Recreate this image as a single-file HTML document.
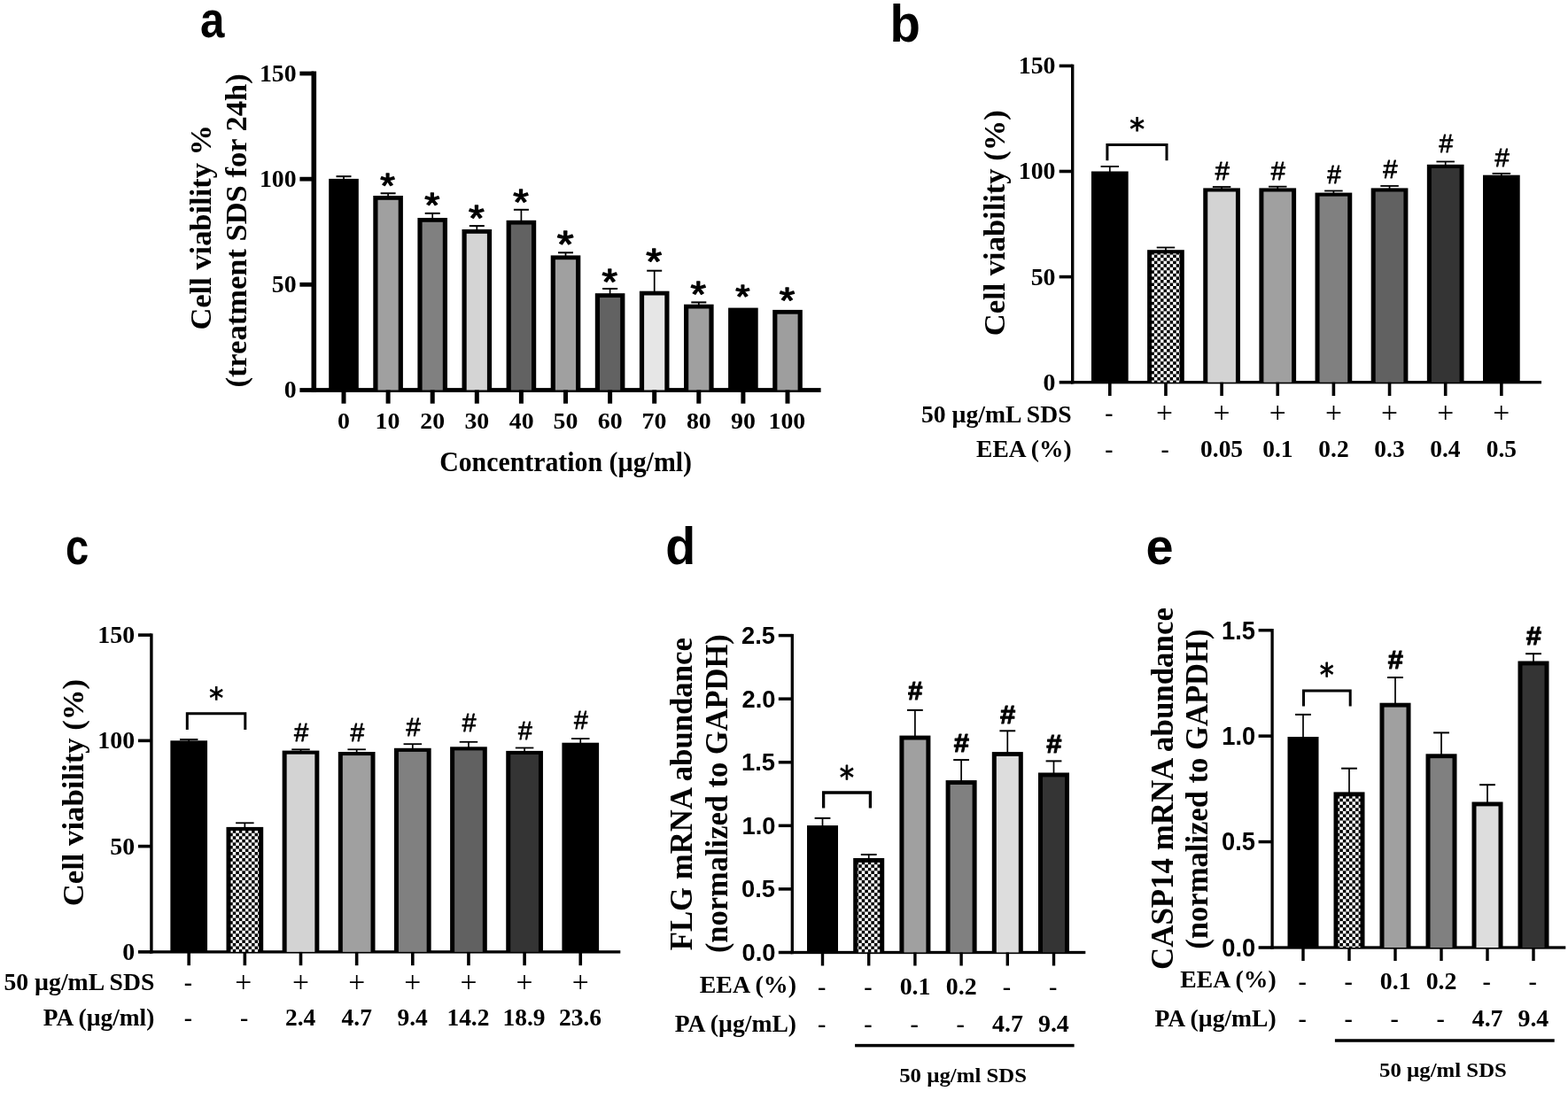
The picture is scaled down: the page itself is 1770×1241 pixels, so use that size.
<!DOCTYPE html>
<html><head><meta charset="utf-8"><title>Figure</title>
<style>html,body{margin:0;padding:0;background:#fff;}svg{display:block;}</style></head>
<body>
<svg width="1770" height="1241" viewBox="0 0 1770 1241">
<defs><pattern id="chk" patternUnits="userSpaceOnUse" x="0" y="0" width="7.1" height="7.1"><rect width="7.1" height="7.1" fill="#fff"/><rect width="3.55" height="3.55" fill="#000"/><rect x="3.55" y="3.55" width="3.55" height="3.55" fill="#000"/></pattern></defs>
<rect width="1770" height="1241" fill="#fff"/>
<text x="225.95" y="41.74" textLength="27.43" lengthAdjust="spacingAndGlyphs" style="font-family:'Liberation Sans', Arial, sans-serif;font-weight:bold;font-size:57.5px" fill="#000">a</text>
<rect x="351.5" y="80.5" width="5.6" height="362.5" fill="#000"/>
<rect x="351.5" y="438.1" width="575.1" height="4.8" fill="#000"/>
<rect x="338.4" y="438.1" width="15.9" height="4.8" fill="#000"/>
<text x="320.67" y="449.38" textLength="13.88" lengthAdjust="spacingAndGlyphs" style="font-family:'Liberation Serif', 'Times New Roman', serif;font-weight:bold;font-size:26.7px" fill="#000">0</text>
<rect x="338.4" y="318.93" width="15.9" height="4.8" fill="#000"/>
<text x="306.79" y="330.21" textLength="27.77" lengthAdjust="spacingAndGlyphs" style="font-family:'Liberation Serif', 'Times New Roman', serif;font-weight:bold;font-size:26.7px" fill="#000">50</text>
<rect x="338.4" y="199.77" width="15.9" height="4.8" fill="#000"/>
<text x="292.91" y="211.04" textLength="41.65" lengthAdjust="spacingAndGlyphs" style="font-family:'Liberation Serif', 'Times New Roman', serif;font-weight:bold;font-size:26.7px" fill="#000">100</text>
<rect x="338.4" y="80.6" width="15.9" height="4.8" fill="#000"/>
<text x="292.91" y="91.88" textLength="41.65" lengthAdjust="spacingAndGlyphs" style="font-family:'Liberation Serif', 'Times New Roman', serif;font-weight:bold;font-size:26.7px" fill="#000">150</text>
<rect x="387.15" y="199.2" width="1.7" height="3.7" fill="#000"/>
<rect x="379.5" y="198.2" width="17" height="2" fill="#000"/>
<rect x="371.2" y="201.9" width="33.6" height="238.6" fill="#000"/>
<rect x="385.5" y="440.5" width="5" height="15.2" fill="#000"/>
<text x="381.05" y="483.5" textLength="13.91" lengthAdjust="spacingAndGlyphs" style="font-family:'Liberation Serif', 'Times New Roman', serif;font-weight:bold;font-size:26px" fill="#000">0</text>
<rect x="437.25" y="218.3" width="1.7" height="3.7" fill="#000"/>
<rect x="429.6" y="217.3" width="17" height="2" fill="#000"/>
<rect x="421.3" y="221" width="33.6" height="219.5" fill="#000"/>
<rect x="426.5" y="225.8" width="23.2" height="214.7" fill="#a0a0a0"/>
<rect x="435.6" y="440.5" width="5" height="15.2" fill="#000"/>
<text x="423.61" y="483.5" textLength="27.82" lengthAdjust="spacingAndGlyphs" style="font-family:'Liberation Serif', 'Times New Roman', serif;font-weight:bold;font-size:26px" fill="#000">10</text>
<text x="429.37" y="222.71" textLength="16.64" lengthAdjust="spacingAndGlyphs" style="font-family:'Liberation Sans', Arial, sans-serif;font-weight:normal;font-size:38.17px" fill="#000" stroke="#000" stroke-width="1.3" stroke-linejoin="round">*</text>
<rect x="487.35" y="240.9" width="1.7" height="6.1" fill="#000"/>
<rect x="479.7" y="239.9" width="17" height="2" fill="#000"/>
<rect x="471.4" y="246" width="33.6" height="194.5" fill="#000"/>
<rect x="476.6" y="250.8" width="23.2" height="189.7" fill="#808080"/>
<rect x="485.7" y="440.5" width="5" height="15.2" fill="#000"/>
<text x="474.24" y="483.5" textLength="27.82" lengthAdjust="spacingAndGlyphs" style="font-family:'Liberation Serif', 'Times New Roman', serif;font-weight:bold;font-size:26px" fill="#000">20</text>
<text x="479.22" y="244.89" textLength="17.13" lengthAdjust="spacingAndGlyphs" style="font-family:'Liberation Sans', Arial, sans-serif;font-weight:normal;font-size:39.31px" fill="#000" stroke="#000" stroke-width="1.3" stroke-linejoin="round">*</text>
<rect x="537.45" y="255.1" width="1.7" height="4.9" fill="#000"/>
<rect x="529.8" y="254.1" width="17" height="2" fill="#000"/>
<rect x="521.5" y="259" width="33.6" height="181.5" fill="#000"/>
<rect x="526.7" y="263.8" width="23.2" height="176.7" fill="#d4d4d4"/>
<rect x="535.8" y="440.5" width="5" height="15.2" fill="#000"/>
<text x="524.4" y="483.5" textLength="27.82" lengthAdjust="spacingAndGlyphs" style="font-family:'Liberation Serif', 'Times New Roman', serif;font-weight:bold;font-size:26px" fill="#000">30</text>
<text x="529.01" y="260.07" textLength="17.75" lengthAdjust="spacingAndGlyphs" style="font-family:'Liberation Sans', Arial, sans-serif;font-weight:normal;font-size:40.73px" fill="#000" stroke="#000" stroke-width="1.3" stroke-linejoin="round">*</text>
<rect x="587.55" y="236.8" width="1.7" height="13" fill="#000"/>
<rect x="579.9" y="235.8" width="17" height="2" fill="#000"/>
<rect x="571.6" y="248.8" width="33.6" height="191.7" fill="#000"/>
<rect x="576.8" y="253.6" width="23.2" height="186.9" fill="#626262"/>
<rect x="585.9" y="440.5" width="5" height="15.2" fill="#000"/>
<text x="574.83" y="483.5" textLength="27.82" lengthAdjust="spacingAndGlyphs" style="font-family:'Liberation Serif', 'Times New Roman', serif;font-weight:bold;font-size:26px" fill="#000">40</text>
<text x="579.24" y="242.08" textLength="17.51" lengthAdjust="spacingAndGlyphs" style="font-family:'Liberation Sans', Arial, sans-serif;font-weight:normal;font-size:40.16px" fill="#000" stroke="#000" stroke-width="1.3" stroke-linejoin="round">*</text>
<rect x="637.65" y="285.3" width="1.7" height="4.1" fill="#000"/>
<rect x="630" y="284.3" width="17" height="2" fill="#000"/>
<rect x="621.7" y="288.4" width="33.6" height="152.1" fill="#000"/>
<rect x="626.9" y="293.2" width="23.2" height="147.3" fill="#a0a0a0"/>
<rect x="636" y="440.5" width="5" height="15.2" fill="#000"/>
<text x="624.56" y="483.5" textLength="27.82" lengthAdjust="spacingAndGlyphs" style="font-family:'Liberation Serif', 'Times New Roman', serif;font-weight:bold;font-size:26px" fill="#000">50</text>
<text x="628.65" y="290.44" textLength="18.87" lengthAdjust="spacingAndGlyphs" style="font-family:'Liberation Sans', Arial, sans-serif;font-weight:normal;font-size:43.3px" fill="#000" stroke="#000" stroke-width="1.3" stroke-linejoin="round">*</text>
<rect x="687.75" y="326" width="1.7" height="6.2" fill="#000"/>
<rect x="680.1" y="325" width="17" height="2" fill="#000"/>
<rect x="671.8" y="331.2" width="33.6" height="109.3" fill="#000"/>
<rect x="677" y="336" width="23.2" height="104.5" fill="#626262"/>
<rect x="686.1" y="440.5" width="5" height="15.2" fill="#000"/>
<text x="674.74" y="483.5" textLength="27.82" lengthAdjust="spacingAndGlyphs" style="font-family:'Liberation Serif', 'Times New Roman', serif;font-weight:bold;font-size:26px" fill="#000">60</text>
<text x="679.44" y="331.68" textLength="17.51" lengthAdjust="spacingAndGlyphs" style="font-family:'Liberation Sans', Arial, sans-serif;font-weight:normal;font-size:40.16px" fill="#000" stroke="#000" stroke-width="1.3" stroke-linejoin="round">*</text>
<rect x="737.85" y="305.7" width="1.7" height="24" fill="#000"/>
<rect x="730.2" y="304.7" width="17" height="2" fill="#000"/>
<rect x="721.9" y="328.7" width="33.6" height="111.8" fill="#000"/>
<rect x="727.1" y="333.5" width="23.2" height="107" fill="#e6e6e6"/>
<rect x="736.2" y="440.5" width="5" height="15.2" fill="#000"/>
<text x="724.53" y="483.5" textLength="27.82" lengthAdjust="spacingAndGlyphs" style="font-family:'Liberation Serif', 'Times New Roman', serif;font-weight:bold;font-size:26px" fill="#000">70</text>
<text x="729.35" y="308.87" textLength="17.88" lengthAdjust="spacingAndGlyphs" style="font-family:'Liberation Sans', Arial, sans-serif;font-weight:normal;font-size:41.02px" fill="#000" stroke="#000" stroke-width="1.3" stroke-linejoin="round">*</text>
<rect x="787.95" y="341.4" width="1.7" height="3.3" fill="#000"/>
<rect x="780.3" y="340.4" width="17" height="2" fill="#000"/>
<rect x="772" y="343.7" width="33.6" height="96.8" fill="#000"/>
<rect x="777.2" y="348.5" width="23.2" height="92" fill="#a0a0a0"/>
<rect x="786.3" y="440.5" width="5" height="15.2" fill="#000"/>
<text x="774.96" y="483.5" textLength="27.82" lengthAdjust="spacingAndGlyphs" style="font-family:'Liberation Serif', 'Times New Roman', serif;font-weight:bold;font-size:26px" fill="#000">80</text>
<text x="779.64" y="346.08" textLength="17.51" lengthAdjust="spacingAndGlyphs" style="font-family:'Liberation Sans', Arial, sans-serif;font-weight:normal;font-size:40.16px" fill="#000" stroke="#000" stroke-width="1.3" stroke-linejoin="round">*</text>
<rect x="822.1" y="347.6" width="33.6" height="92.9" fill="#000"/>
<rect x="836.4" y="440.5" width="5" height="15.2" fill="#000"/>
<text x="825.14" y="483.5" textLength="27.82" lengthAdjust="spacingAndGlyphs" style="font-family:'Liberation Serif', 'Times New Roman', serif;font-weight:bold;font-size:26px" fill="#000">90</text>
<text x="830.36" y="347.92" textLength="16.26" lengthAdjust="spacingAndGlyphs" style="font-family:'Liberation Sans', Arial, sans-serif;font-weight:normal;font-size:37.31px" fill="#000" stroke="#000" stroke-width="1.3" stroke-linejoin="round">*</text>
<rect x="872.2" y="349.9" width="33.6" height="90.6" fill="#000"/>
<rect x="877.4" y="354.7" width="23.2" height="85.8" fill="#9e9e9e"/>
<rect x="886.5" y="440.5" width="5" height="15.2" fill="#000"/>
<text x="867.55" y="483.5" textLength="41.73" lengthAdjust="spacingAndGlyphs" style="font-family:'Liberation Serif', 'Times New Roman', serif;font-weight:bold;font-size:26px" fill="#000">100</text>
<text x="879.84" y="352.78" textLength="17.51" lengthAdjust="spacingAndGlyphs" style="font-family:'Liberation Sans', Arial, sans-serif;font-weight:normal;font-size:40.16px" fill="#000" stroke="#000" stroke-width="1.3" stroke-linejoin="round">*</text>
<text x="496.14" y="531.6" textLength="284.87" lengthAdjust="spacingAndGlyphs" style="font-family:'Liberation Serif', 'Times New Roman', serif;font-weight:bold;font-size:30.5px" fill="#000">Concentration (µg/ml)</text>
<text transform="translate(237.6,372.58) rotate(-90)" x="0" y="0" textLength="231.61" lengthAdjust="spacingAndGlyphs" style="font-family:'Liberation Serif', 'Times New Roman', serif;font-weight:bold;font-size:34.3px" fill="#000">Cell viability %</text>
<text transform="translate(277.5,437.61) rotate(-90)" x="0" y="0" textLength="354.32" lengthAdjust="spacingAndGlyphs" style="font-family:'Liberation Serif', 'Times New Roman', serif;font-weight:bold;font-size:34.4px" fill="#000">(treatment SDS for 24h)</text>
<rect x="1209" y="72.7" width="3.4" height="360.7" fill="#000"/>
<rect x="1209" y="430.05" width="531" height="3.3" fill="#000"/>
<rect x="1195.7" y="429.9" width="15" height="3.6" fill="#000"/>
<text x="1177.63" y="440.61" textLength="13.94" lengthAdjust="spacingAndGlyphs" style="font-family:'Liberation Serif', 'Times New Roman', serif;font-weight:bold;font-size:26.8px" fill="#000">0</text>
<rect x="1195.7" y="310.8" width="15" height="3.6" fill="#000"/>
<text x="1163.69" y="321.51" textLength="27.87" lengthAdjust="spacingAndGlyphs" style="font-family:'Liberation Serif', 'Times New Roman', serif;font-weight:bold;font-size:26.8px" fill="#000">50</text>
<rect x="1195.7" y="191.7" width="15" height="3.6" fill="#000"/>
<text x="1149.75" y="202.41" textLength="41.81" lengthAdjust="spacingAndGlyphs" style="font-family:'Liberation Serif', 'Times New Roman', serif;font-weight:bold;font-size:26.8px" fill="#000">100</text>
<rect x="1195.7" y="72.6" width="15" height="3.6" fill="#000"/>
<text x="1149.75" y="83.31" textLength="41.81" lengthAdjust="spacingAndGlyphs" style="font-family:'Liberation Serif', 'Times New Roman', serif;font-weight:bold;font-size:26.8px" fill="#000">150</text>
<rect x="1251.95" y="188" width="1.7" height="6.5" fill="#000"/>
<rect x="1242.55" y="187.1" width="20.5" height="1.8" fill="#000"/>
<rect x="1231.95" y="193.5" width="41.7" height="238.2" fill="#000"/>
<rect x="1251" y="431.7" width="3.6" height="15.3" fill="#000"/>
<rect x="1315.1" y="279.5" width="1.7" height="3.7" fill="#000"/>
<rect x="1305.7" y="278.6" width="20.5" height="1.8" fill="#000"/>
<rect x="1295.1" y="282.2" width="41.7" height="149.5" fill="#000"/>
<rect x="1300.1" y="286.3" width="31.7" height="145.4" fill="url(#chk)"/>
<rect x="1314.15" y="431.7" width="3.6" height="15.3" fill="#000"/>
<rect x="1378.25" y="211" width="1.7" height="2.4" fill="#000"/>
<rect x="1368.85" y="210.1" width="20.5" height="1.8" fill="#000"/>
<rect x="1358.25" y="212.4" width="41.7" height="219.3" fill="#000"/>
<rect x="1363.25" y="216.5" width="31.7" height="215.2" fill="#d3d3d3"/>
<rect x="1377.3" y="431.7" width="3.6" height="15.3" fill="#000"/>
<text x="1371.72" y="203.4" textLength="16.17" lengthAdjust="spacingAndGlyphs" style="font-family:'Liberation Sans', Arial, sans-serif;font-weight:normal;font-size:29.97px" fill="#000" stroke="#000" stroke-width="0.8" stroke-linejoin="round">#</text>
<rect x="1441.4" y="210.7" width="1.7" height="2.7" fill="#000"/>
<rect x="1432" y="209.8" width="20.5" height="1.8" fill="#000"/>
<rect x="1421.4" y="212.4" width="41.7" height="219.3" fill="#000"/>
<rect x="1426.4" y="216.5" width="31.7" height="215.2" fill="#a0a0a0"/>
<rect x="1440.45" y="431.7" width="3.6" height="15.3" fill="#000"/>
<text x="1434.87" y="203.4" textLength="16.17" lengthAdjust="spacingAndGlyphs" style="font-family:'Liberation Sans', Arial, sans-serif;font-weight:normal;font-size:29.97px" fill="#000" stroke="#000" stroke-width="0.8" stroke-linejoin="round">#</text>
<rect x="1504.55" y="215.5" width="1.7" height="3.1" fill="#000"/>
<rect x="1495.15" y="214.6" width="20.5" height="1.8" fill="#000"/>
<rect x="1484.55" y="217.6" width="41.7" height="214.1" fill="#000"/>
<rect x="1489.55" y="221.7" width="31.7" height="210" fill="#808080"/>
<rect x="1503.6" y="431.7" width="3.6" height="15.3" fill="#000"/>
<text x="1498.34" y="206.5" textLength="15.54" lengthAdjust="spacingAndGlyphs" style="font-family:'Liberation Sans', Arial, sans-serif;font-weight:normal;font-size:28.8px" fill="#000" stroke="#000" stroke-width="0.8" stroke-linejoin="round">#</text>
<rect x="1567.7" y="210" width="1.7" height="3.4" fill="#000"/>
<rect x="1558.3" y="209.1" width="20.5" height="1.8" fill="#000"/>
<rect x="1547.7" y="212.4" width="41.7" height="219.3" fill="#000"/>
<rect x="1552.7" y="216.5" width="31.7" height="215.2" fill="#616161"/>
<rect x="1566.75" y="431.7" width="3.6" height="15.3" fill="#000"/>
<text x="1561.13" y="201.3" textLength="16.25" lengthAdjust="spacingAndGlyphs" style="font-family:'Liberation Sans', Arial, sans-serif;font-weight:normal;font-size:30.11px" fill="#000" stroke="#000" stroke-width="0.8" stroke-linejoin="round">#</text>
<rect x="1630.85" y="182.5" width="1.7" height="4.3" fill="#000"/>
<rect x="1621.45" y="181.6" width="20.5" height="1.8" fill="#000"/>
<rect x="1610.85" y="185.8" width="41.7" height="245.9" fill="#000"/>
<rect x="1615.85" y="189.9" width="31.7" height="241.8" fill="#343434"/>
<rect x="1629.9" y="431.7" width="3.6" height="15.3" fill="#000"/>
<text x="1624.56" y="171.7" textLength="15.69" lengthAdjust="spacingAndGlyphs" style="font-family:'Liberation Sans', Arial, sans-serif;font-weight:normal;font-size:29.09px" fill="#000" stroke="#000" stroke-width="0.8" stroke-linejoin="round">#</text>
<rect x="1694" y="195.9" width="1.7" height="2.8" fill="#000"/>
<rect x="1684.6" y="195" width="20.5" height="1.8" fill="#000"/>
<rect x="1674" y="197.7" width="41.7" height="234" fill="#000"/>
<rect x="1693.05" y="431.7" width="3.6" height="15.3" fill="#000"/>
<text x="1687.43" y="188.2" textLength="16.25" lengthAdjust="spacingAndGlyphs" style="font-family:'Liberation Sans', Arial, sans-serif;font-weight:normal;font-size:30.11px" fill="#000" stroke="#000" stroke-width="0.8" stroke-linejoin="round">#</text>
<path d="M1249.9 181.2 V163.6 H1317 V181.2" fill="none" stroke="#000" stroke-width="3" stroke-linejoin="miter"/>
<text x="1274.9" y="157.93" textLength="17.2" lengthAdjust="spacingAndGlyphs" style="font-family:'DejaVu Sans', sans-serif;font-weight:bold;font-size:35.75px" fill="#000">*</text>
<text transform="translate(1134,379.18) rotate(-90)" x="0" y="0" textLength="254.9" lengthAdjust="spacingAndGlyphs" style="font-family:'Liberation Serif', 'Times New Roman', serif;font-weight:bold;font-size:34.5px" fill="#000">Cell viability (%)</text>
<text x="1004.38" y="46.52" textLength="34.43" lengthAdjust="spacingAndGlyphs" style="font-family:'Liberation Sans', Arial, sans-serif;font-weight:bold;font-size:59.51px" fill="#000">b</text>
<text x="1040" y="476.8" textLength="169.56" lengthAdjust="spacingAndGlyphs" style="font-family:'Liberation Serif', 'Times New Roman', serif;font-weight:bold;font-size:26.4px" fill="#000">50 µg/mL SDS</text>
<text x="1247.38" y="475" textLength="9.23" lengthAdjust="spacingAndGlyphs" style="font-family:'Liberation Serif', 'Times New Roman', serif;font-weight:bold;font-size:26.4px" fill="#000">-</text>
<text x="1304.96" y="476.93" textLength="18.95" lengthAdjust="spacingAndGlyphs" style="font-family:'Liberation Serif', 'Times New Roman', serif;font-weight:normal;font-size:32.63px" fill="#000">+</text>
<text x="1369.61" y="476.93" textLength="18.95" lengthAdjust="spacingAndGlyphs" style="font-family:'Liberation Serif', 'Times New Roman', serif;font-weight:normal;font-size:32.63px" fill="#000">+</text>
<text x="1432.76" y="476.93" textLength="18.95" lengthAdjust="spacingAndGlyphs" style="font-family:'Liberation Serif', 'Times New Roman', serif;font-weight:normal;font-size:32.63px" fill="#000">+</text>
<text x="1495.91" y="476.93" textLength="18.95" lengthAdjust="spacingAndGlyphs" style="font-family:'Liberation Serif', 'Times New Roman', serif;font-weight:normal;font-size:32.63px" fill="#000">+</text>
<text x="1559.06" y="476.93" textLength="18.95" lengthAdjust="spacingAndGlyphs" style="font-family:'Liberation Serif', 'Times New Roman', serif;font-weight:normal;font-size:32.63px" fill="#000">+</text>
<text x="1622.21" y="476.93" textLength="18.95" lengthAdjust="spacingAndGlyphs" style="font-family:'Liberation Serif', 'Times New Roman', serif;font-weight:normal;font-size:32.63px" fill="#000">+</text>
<text x="1685.36" y="476.93" textLength="18.95" lengthAdjust="spacingAndGlyphs" style="font-family:'Liberation Serif', 'Times New Roman', serif;font-weight:normal;font-size:32.63px" fill="#000">+</text>
<text x="1102.14" y="515.6" textLength="107.45" lengthAdjust="spacingAndGlyphs" style="font-family:'Liberation Serif', 'Times New Roman', serif;font-weight:bold;font-size:26.4px" fill="#000">EEA (%)</text>
<text x="1247.38" y="515.6" textLength="9.23" lengthAdjust="spacingAndGlyphs" style="font-family:'Liberation Serif', 'Times New Roman', serif;font-weight:bold;font-size:26.4px" fill="#000">-</text>
<text x="1310.53" y="515.6" textLength="9.23" lengthAdjust="spacingAndGlyphs" style="font-family:'Liberation Serif', 'Times New Roman', serif;font-weight:bold;font-size:26.4px" fill="#000">-</text>
<text x="1355.06" y="515.6" textLength="48.05" lengthAdjust="spacingAndGlyphs" style="font-family:'Liberation Serif', 'Times New Roman', serif;font-weight:bold;font-size:26.4px" fill="#000">0.05</text>
<text x="1425.28" y="515.6" textLength="34.32" lengthAdjust="spacingAndGlyphs" style="font-family:'Liberation Serif', 'Times New Roman', serif;font-weight:bold;font-size:26.4px" fill="#000">0.1</text>
<text x="1488.31" y="515.6" textLength="34.32" lengthAdjust="spacingAndGlyphs" style="font-family:'Liberation Serif', 'Times New Roman', serif;font-weight:bold;font-size:26.4px" fill="#000">0.2</text>
<text x="1551.34" y="515.6" textLength="34.32" lengthAdjust="spacingAndGlyphs" style="font-family:'Liberation Serif', 'Times New Roman', serif;font-weight:bold;font-size:26.4px" fill="#000">0.3</text>
<text x="1614.27" y="515.6" textLength="34.32" lengthAdjust="spacingAndGlyphs" style="font-family:'Liberation Serif', 'Times New Roman', serif;font-weight:bold;font-size:26.4px" fill="#000">0.4</text>
<text x="1677.67" y="515.6" textLength="34.32" lengthAdjust="spacingAndGlyphs" style="font-family:'Liberation Serif', 'Times New Roman', serif;font-weight:bold;font-size:26.4px" fill="#000">0.5</text>
<rect x="169.2" y="715.4" width="3.4" height="361.2" fill="#000"/>
<rect x="169.2" y="1073.25" width="531.1" height="3.3" fill="#000"/>
<rect x="155.9" y="1073.1" width="15" height="3.6" fill="#000"/>
<text x="138.23" y="1083.81" textLength="13.94" lengthAdjust="spacingAndGlyphs" style="font-family:'Liberation Serif', 'Times New Roman', serif;font-weight:bold;font-size:26.8px" fill="#000">0</text>
<rect x="155.9" y="953.83" width="15" height="3.6" fill="#000"/>
<text x="124.29" y="964.54" textLength="27.87" lengthAdjust="spacingAndGlyphs" style="font-family:'Liberation Serif', 'Times New Roman', serif;font-weight:bold;font-size:26.8px" fill="#000">50</text>
<rect x="155.9" y="834.57" width="15" height="3.6" fill="#000"/>
<text x="110.35" y="845.28" textLength="41.81" lengthAdjust="spacingAndGlyphs" style="font-family:'Liberation Serif', 'Times New Roman', serif;font-weight:bold;font-size:26.8px" fill="#000">100</text>
<rect x="155.9" y="715.3" width="15" height="3.6" fill="#000"/>
<text x="110.35" y="726.01" textLength="41.81" lengthAdjust="spacingAndGlyphs" style="font-family:'Liberation Serif', 'Times New Roman', serif;font-weight:bold;font-size:26.8px" fill="#000">150</text>
<rect x="212.35" y="835" width="1.7" height="2.3" fill="#000"/>
<rect x="202.95" y="834.1" width="20.5" height="1.8" fill="#000"/>
<rect x="192.35" y="836.3" width="41.7" height="238.6" fill="#000"/>
<rect x="211.4" y="1074.9" width="3.6" height="15.3" fill="#000"/>
<rect x="275.5" y="929.3" width="1.7" height="5.6" fill="#000"/>
<rect x="266.1" y="928.4" width="20.5" height="1.8" fill="#000"/>
<rect x="255.5" y="933.9" width="41.7" height="141" fill="#000"/>
<rect x="260.5" y="938" width="31.7" height="136.9" fill="url(#chk)"/>
<rect x="274.55" y="1074.9" width="3.6" height="15.3" fill="#000"/>
<rect x="338.65" y="846.3" width="1.7" height="2.3" fill="#000"/>
<rect x="329.25" y="845.4" width="20.5" height="1.8" fill="#000"/>
<rect x="318.65" y="847.6" width="41.7" height="227.3" fill="#000"/>
<rect x="323.65" y="851.7" width="31.7" height="223.2" fill="#d3d3d3"/>
<rect x="337.7" y="1074.9" width="3.6" height="15.3" fill="#000"/>
<text x="332.08" y="837.4" textLength="16.25" lengthAdjust="spacingAndGlyphs" style="font-family:'Liberation Sans', Arial, sans-serif;font-weight:normal;font-size:30.11px" fill="#000" stroke="#000" stroke-width="0.8" stroke-linejoin="round">#</text>
<rect x="401.8" y="846.3" width="1.7" height="3.7" fill="#000"/>
<rect x="392.4" y="845.4" width="20.5" height="1.8" fill="#000"/>
<rect x="381.8" y="849" width="41.7" height="225.9" fill="#000"/>
<rect x="386.8" y="853.1" width="31.7" height="221.8" fill="#a0a0a0"/>
<rect x="400.85" y="1074.9" width="3.6" height="15.3" fill="#000"/>
<text x="395.47" y="836.8" textLength="15.77" lengthAdjust="spacingAndGlyphs" style="font-family:'Liberation Sans', Arial, sans-serif;font-weight:normal;font-size:29.24px" fill="#000" stroke="#000" stroke-width="0.8" stroke-linejoin="round">#</text>
<rect x="464.95" y="840.2" width="1.7" height="5.6" fill="#000"/>
<rect x="455.55" y="839.3" width="20.5" height="1.8" fill="#000"/>
<rect x="444.95" y="844.8" width="41.7" height="230.1" fill="#000"/>
<rect x="449.95" y="848.9" width="31.7" height="226" fill="#808080"/>
<rect x="464" y="1074.9" width="3.6" height="15.3" fill="#000"/>
<text x="458.38" y="831.3" textLength="16.25" lengthAdjust="spacingAndGlyphs" style="font-family:'Liberation Sans', Arial, sans-serif;font-weight:normal;font-size:30.11px" fill="#000" stroke="#000" stroke-width="0.8" stroke-linejoin="round">#</text>
<rect x="528.1" y="837.8" width="1.7" height="6.5" fill="#000"/>
<rect x="518.7" y="836.9" width="20.5" height="1.8" fill="#000"/>
<rect x="508.1" y="843.3" width="41.7" height="231.6" fill="#000"/>
<rect x="513.1" y="847.4" width="31.7" height="227.5" fill="#616161"/>
<rect x="527.15" y="1074.9" width="3.6" height="15.3" fill="#000"/>
<text x="521.81" y="826.1" textLength="15.69" lengthAdjust="spacingAndGlyphs" style="font-family:'Liberation Sans', Arial, sans-serif;font-weight:normal;font-size:29.09px" fill="#000" stroke="#000" stroke-width="0.8" stroke-linejoin="round">#</text>
<rect x="591.25" y="844.5" width="1.7" height="4.4" fill="#000"/>
<rect x="581.85" y="843.6" width="20.5" height="1.8" fill="#000"/>
<rect x="571.25" y="847.9" width="41.7" height="227" fill="#000"/>
<rect x="576.25" y="852" width="31.7" height="222.9" fill="#343434"/>
<rect x="590.3" y="1074.9" width="3.6" height="15.3" fill="#000"/>
<text x="584.92" y="835.3" textLength="15.77" lengthAdjust="spacingAndGlyphs" style="font-family:'Liberation Sans', Arial, sans-serif;font-weight:normal;font-size:29.24px" fill="#000" stroke="#000" stroke-width="0.8" stroke-linejoin="round">#</text>
<rect x="654.4" y="834.1" width="1.7" height="5.6" fill="#000"/>
<rect x="645" y="833.2" width="20.5" height="1.8" fill="#000"/>
<rect x="634.4" y="838.7" width="41.7" height="236.2" fill="#000"/>
<rect x="653.45" y="1074.9" width="3.6" height="15.3" fill="#000"/>
<text x="648.07" y="823.1" textLength="15.77" lengthAdjust="spacingAndGlyphs" style="font-family:'Liberation Sans', Arial, sans-serif;font-weight:normal;font-size:29.24px" fill="#000" stroke="#000" stroke-width="0.8" stroke-linejoin="round">#</text>
<path d="M211.3 824 V805.8 H276.8 V824" fill="none" stroke="#000" stroke-width="3" stroke-linejoin="miter"/>
<text x="236.01" y="800.25" textLength="16.37" lengthAdjust="spacingAndGlyphs" style="font-family:'DejaVu Sans', sans-serif;font-weight:bold;font-size:34.03px" fill="#000">*</text>
<text transform="translate(93.7,1023.29) rotate(-90)" x="0" y="0" textLength="256.32" lengthAdjust="spacingAndGlyphs" style="font-family:'Liberation Serif', 'Times New Roman', serif;font-weight:bold;font-size:34.7px" fill="#000">Cell viability (%)</text>
<text x="73.96" y="636.93" textLength="26.22" lengthAdjust="spacingAndGlyphs" style="font-family:'Liberation Sans', Arial, sans-serif;font-weight:bold;font-size:57.86px" fill="#000">c</text>
<text x="4.5" y="1118" textLength="169.87" lengthAdjust="spacingAndGlyphs" style="font-family:'Liberation Serif', 'Times New Roman', serif;font-weight:bold;font-size:26.4px" fill="#000">50 µg/mL SDS</text>
<text x="207.78" y="1118" textLength="9.23" lengthAdjust="spacingAndGlyphs" style="font-family:'Liberation Serif', 'Times New Roman', serif;font-weight:bold;font-size:26.4px" fill="#000">-</text>
<text x="265.36" y="1119.93" textLength="18.95" lengthAdjust="spacingAndGlyphs" style="font-family:'Liberation Serif', 'Times New Roman', serif;font-weight:normal;font-size:32.63px" fill="#000">+</text>
<text x="330.01" y="1119.93" textLength="18.95" lengthAdjust="spacingAndGlyphs" style="font-family:'Liberation Serif', 'Times New Roman', serif;font-weight:normal;font-size:32.63px" fill="#000">+</text>
<text x="393.16" y="1119.93" textLength="18.95" lengthAdjust="spacingAndGlyphs" style="font-family:'Liberation Serif', 'Times New Roman', serif;font-weight:normal;font-size:32.63px" fill="#000">+</text>
<text x="456.31" y="1119.93" textLength="18.95" lengthAdjust="spacingAndGlyphs" style="font-family:'Liberation Serif', 'Times New Roman', serif;font-weight:normal;font-size:32.63px" fill="#000">+</text>
<text x="519.46" y="1119.93" textLength="18.95" lengthAdjust="spacingAndGlyphs" style="font-family:'Liberation Serif', 'Times New Roman', serif;font-weight:normal;font-size:32.63px" fill="#000">+</text>
<text x="582.61" y="1119.93" textLength="18.95" lengthAdjust="spacingAndGlyphs" style="font-family:'Liberation Serif', 'Times New Roman', serif;font-weight:normal;font-size:32.63px" fill="#000">+</text>
<text x="645.76" y="1119.93" textLength="18.95" lengthAdjust="spacingAndGlyphs" style="font-family:'Liberation Serif', 'Times New Roman', serif;font-weight:normal;font-size:32.63px" fill="#000">+</text>
<text x="48.84" y="1158.3" textLength="125.53" lengthAdjust="spacingAndGlyphs" style="font-family:'Liberation Serif', 'Times New Roman', serif;font-weight:bold;font-size:26.4px" fill="#000">PA (µg/ml)</text>
<text x="207.78" y="1158.3" textLength="9.23" lengthAdjust="spacingAndGlyphs" style="font-family:'Liberation Serif', 'Times New Roman', serif;font-weight:bold;font-size:26.4px" fill="#000">-</text>
<text x="270.93" y="1158.3" textLength="9.23" lengthAdjust="spacingAndGlyphs" style="font-family:'Liberation Serif', 'Times New Roman', serif;font-weight:bold;font-size:26.4px" fill="#000">-</text>
<text x="322.02" y="1158.3" textLength="34.32" lengthAdjust="spacingAndGlyphs" style="font-family:'Liberation Serif', 'Times New Roman', serif;font-weight:bold;font-size:26.4px" fill="#000">2.4</text>
<text x="385.64" y="1158.3" textLength="34.32" lengthAdjust="spacingAndGlyphs" style="font-family:'Liberation Serif', 'Times New Roman', serif;font-weight:bold;font-size:26.4px" fill="#000">4.7</text>
<text x="448.52" y="1158.3" textLength="34.32" lengthAdjust="spacingAndGlyphs" style="font-family:'Liberation Serif', 'Times New Roman', serif;font-weight:bold;font-size:26.4px" fill="#000">9.4</text>
<text x="504.42" y="1158.3" textLength="48.05" lengthAdjust="spacingAndGlyphs" style="font-family:'Liberation Serif', 'Times New Roman', serif;font-weight:bold;font-size:26.4px" fill="#000">14.2</text>
<text x="567.47" y="1158.3" textLength="48.05" lengthAdjust="spacingAndGlyphs" style="font-family:'Liberation Serif', 'Times New Roman', serif;font-weight:bold;font-size:26.4px" fill="#000">18.9</text>
<text x="631.05" y="1158.3" textLength="48.05" lengthAdjust="spacingAndGlyphs" style="font-family:'Liberation Serif', 'Times New Roman', serif;font-weight:bold;font-size:26.4px" fill="#000">23.6</text>
<rect x="892.65" y="715.9" width="3.3" height="361.3" fill="#000"/>
<rect x="892.6" y="1073.85" width="332.7" height="3.3" fill="#000"/>
<rect x="878.8" y="1073.75" width="15.5" height="3.5" fill="#000"/>
<text x="837.44" y="1084.99" textLength="37.98" lengthAdjust="spacingAndGlyphs" style="font-family:'Liberation Sans', Arial, sans-serif;font-weight:bold;font-size:27.6px" fill="#000">0.0</text>
<rect x="878.8" y="1002.17" width="15.5" height="3.5" fill="#000"/>
<text x="837.08" y="1013.41" textLength="37.98" lengthAdjust="spacingAndGlyphs" style="font-family:'Liberation Sans', Arial, sans-serif;font-weight:bold;font-size:27.6px" fill="#000">0.5</text>
<rect x="878.8" y="930.59" width="15.5" height="3.5" fill="#000"/>
<text x="837.44" y="941.83" textLength="37.98" lengthAdjust="spacingAndGlyphs" style="font-family:'Liberation Sans', Arial, sans-serif;font-weight:bold;font-size:27.6px" fill="#000">1.0</text>
<rect x="878.8" y="859.01" width="15.5" height="3.5" fill="#000"/>
<text x="837.08" y="870.25" textLength="37.98" lengthAdjust="spacingAndGlyphs" style="font-family:'Liberation Sans', Arial, sans-serif;font-weight:bold;font-size:27.6px" fill="#000">1.5</text>
<rect x="878.8" y="787.43" width="15.5" height="3.5" fill="#000"/>
<text x="837.44" y="798.67" textLength="37.98" lengthAdjust="spacingAndGlyphs" style="font-family:'Liberation Sans', Arial, sans-serif;font-weight:bold;font-size:27.6px" fill="#000">2.0</text>
<rect x="878.8" y="715.85" width="15.5" height="3.5" fill="#000"/>
<text x="837.08" y="727.09" textLength="37.98" lengthAdjust="spacingAndGlyphs" style="font-family:'Liberation Sans', Arial, sans-serif;font-weight:bold;font-size:27.6px" fill="#000">2.5</text>
<rect x="927.65" y="923.9" width="1.7" height="9.2" fill="#000"/>
<rect x="919.6" y="922.9" width="17.8" height="2" fill="#000"/>
<rect x="911" y="932.1" width="35" height="143.4" fill="#000"/>
<rect x="926.8" y="1075.5" width="3.4" height="15" fill="#000"/>
<rect x="979.85" y="965" width="1.7" height="5" fill="#000"/>
<rect x="971.8" y="964" width="17.8" height="2" fill="#000"/>
<rect x="963.2" y="969" width="35" height="106.5" fill="#000"/>
<rect x="968.2" y="973.9" width="25" height="101.6" fill="url(#chk)"/>
<rect x="979" y="1075.5" width="3.4" height="15" fill="#000"/>
<rect x="1032.05" y="801.9" width="1.7" height="29.7" fill="#000"/>
<rect x="1024" y="800.9" width="17.8" height="2" fill="#000"/>
<rect x="1015.4" y="830.6" width="35" height="244.9" fill="#000"/>
<rect x="1020.4" y="835.5" width="25" height="240" fill="#a0a0a0"/>
<rect x="1031.2" y="1075.5" width="3.4" height="15" fill="#000"/>
<text x="1025.08" y="790.2" textLength="16.41" lengthAdjust="spacingAndGlyphs" style="font-family:'Liberation Sans', Arial, sans-serif;font-weight:bold;font-size:28.92px" fill="#000" stroke="#000" stroke-width="1.0" stroke-linejoin="round">#</text>
<rect x="1084.25" y="858.1" width="1.7" height="24" fill="#000"/>
<rect x="1076.2" y="857.1" width="17.8" height="2" fill="#000"/>
<rect x="1067.6" y="881.1" width="35" height="194.4" fill="#000"/>
<rect x="1072.6" y="886" width="25" height="189.5" fill="#808080"/>
<rect x="1083.4" y="1075.5" width="3.4" height="15" fill="#000"/>
<text x="1076.87" y="849" textLength="17.24" lengthAdjust="spacingAndGlyphs" style="font-family:'Liberation Sans', Arial, sans-serif;font-weight:bold;font-size:30.39px" fill="#000" stroke="#000" stroke-width="1.0" stroke-linejoin="round">#</text>
<rect x="1136.45" y="825.3" width="1.7" height="24.8" fill="#000"/>
<rect x="1128.4" y="824.3" width="17.8" height="2" fill="#000"/>
<rect x="1119.8" y="849.1" width="35" height="226.4" fill="#000"/>
<rect x="1124.8" y="854" width="25" height="221.5" fill="#dddddd"/>
<rect x="1135.6" y="1075.5" width="3.4" height="15" fill="#000"/>
<text x="1129.07" y="816.5" textLength="17.24" lengthAdjust="spacingAndGlyphs" style="font-family:'Liberation Sans', Arial, sans-serif;font-weight:bold;font-size:30.39px" fill="#000" stroke="#000" stroke-width="1.0" stroke-linejoin="round">#</text>
<rect x="1188.65" y="859.4" width="1.7" height="14.1" fill="#000"/>
<rect x="1180.6" y="858.4" width="17.8" height="2" fill="#000"/>
<rect x="1172" y="872.5" width="35" height="203" fill="#000"/>
<rect x="1177" y="877.4" width="25" height="198.1" fill="#343434"/>
<rect x="1187.8" y="1075.5" width="3.4" height="15" fill="#000"/>
<text x="1181.27" y="849.9" textLength="17.24" lengthAdjust="spacingAndGlyphs" style="font-family:'Liberation Sans', Arial, sans-serif;font-weight:bold;font-size:30.39px" fill="#000" stroke="#000" stroke-width="1.0" stroke-linejoin="round">#</text>
<path d="M929.6 912.5 V895 H982.4 V912.5" fill="none" stroke="#000" stroke-width="3.3" stroke-linejoin="miter"/>
<text x="947.73" y="890.41" textLength="16.34" lengthAdjust="spacingAndGlyphs" style="font-family:'DejaVu Sans', sans-serif;font-weight:normal;font-size:35.52px" fill="#000" stroke="#000" stroke-width="0.9" stroke-linejoin="round">*</text>
<text transform="translate(781,1073.29) rotate(-90)" x="0" y="0" textLength="353.18" lengthAdjust="spacingAndGlyphs" style="font-family:'Liberation Serif', 'Times New Roman', serif;font-weight:bold;font-size:35px" fill="#000">FLG mRNA abundance</text>
<text transform="translate(821.3,1076.11) rotate(-90)" x="0" y="0" textLength="359.83" lengthAdjust="spacingAndGlyphs" style="font-family:'Liberation Serif', 'Times New Roman', serif;font-weight:bold;font-size:35.5px" fill="#000">(normalized to GAPDH)</text>
<text x="751.22" y="636.91" textLength="33.94" lengthAdjust="spacingAndGlyphs" style="font-family:'Liberation Sans', Arial, sans-serif;font-weight:bold;font-size:59.91px" fill="#000">d</text>
<text x="789.73" y="1120.8" textLength="109.28" lengthAdjust="spacingAndGlyphs" style="font-family:'Liberation Serif', 'Times New Roman', serif;font-weight:bold;font-size:26.8px" fill="#000">EEA (%)</text>
<text x="923.01" y="1123.4" textLength="9.37" lengthAdjust="spacingAndGlyphs" style="font-family:'Liberation Serif', 'Times New Roman', serif;font-weight:bold;font-size:26.8px" fill="#000">-</text>
<text x="975.21" y="1123.4" textLength="9.37" lengthAdjust="spacingAndGlyphs" style="font-family:'Liberation Serif', 'Times New Roman', serif;font-weight:bold;font-size:26.8px" fill="#000">-</text>
<text x="1015.67" y="1123.4" textLength="34.84" lengthAdjust="spacingAndGlyphs" style="font-family:'Liberation Serif', 'Times New Roman', serif;font-weight:bold;font-size:26.8px" fill="#000">0.1</text>
<text x="1067.75" y="1123.4" textLength="34.84" lengthAdjust="spacingAndGlyphs" style="font-family:'Liberation Serif', 'Times New Roman', serif;font-weight:bold;font-size:26.8px" fill="#000">0.2</text>
<text x="1131.81" y="1123.4" textLength="9.37" lengthAdjust="spacingAndGlyphs" style="font-family:'Liberation Serif', 'Times New Roman', serif;font-weight:bold;font-size:26.8px" fill="#000">-</text>
<text x="1184.01" y="1123.4" textLength="9.37" lengthAdjust="spacingAndGlyphs" style="font-family:'Liberation Serif', 'Times New Roman', serif;font-weight:bold;font-size:26.8px" fill="#000">-</text>
<text x="761.74" y="1164.9" textLength="137.24" lengthAdjust="spacingAndGlyphs" style="font-family:'Liberation Serif', 'Times New Roman', serif;font-weight:bold;font-size:26.8px" fill="#000">PA (µg/mL)</text>
<text x="923.01" y="1164.9" textLength="9.37" lengthAdjust="spacingAndGlyphs" style="font-family:'Liberation Serif', 'Times New Roman', serif;font-weight:bold;font-size:26.8px" fill="#000">-</text>
<text x="975.21" y="1164.9" textLength="9.37" lengthAdjust="spacingAndGlyphs" style="font-family:'Liberation Serif', 'Times New Roman', serif;font-weight:bold;font-size:26.8px" fill="#000">-</text>
<text x="1027.41" y="1164.9" textLength="9.37" lengthAdjust="spacingAndGlyphs" style="font-family:'Liberation Serif', 'Times New Roman', serif;font-weight:bold;font-size:26.8px" fill="#000">-</text>
<text x="1079.61" y="1164.9" textLength="9.37" lengthAdjust="spacingAndGlyphs" style="font-family:'Liberation Serif', 'Times New Roman', serif;font-weight:bold;font-size:26.8px" fill="#000">-</text>
<text x="1120.03" y="1164.9" textLength="34.84" lengthAdjust="spacingAndGlyphs" style="font-family:'Liberation Serif', 'Times New Roman', serif;font-weight:bold;font-size:26.8px" fill="#000">4.7</text>
<text x="1171.96" y="1164.9" textLength="34.84" lengthAdjust="spacingAndGlyphs" style="font-family:'Liberation Serif', 'Times New Roman', serif;font-weight:bold;font-size:26.8px" fill="#000">9.4</text>
<rect x="965.1" y="1178.85" width="247.5" height="3.5" fill="#000"/>
<text x="1015.21" y="1221.6" textLength="143.75" lengthAdjust="spacingAndGlyphs" style="font-family:'Liberation Serif', 'Times New Roman', serif;font-weight:bold;font-size:23.3px" fill="#000">50 µg/ml SDS</text>
<rect x="1434.45" y="710" width="3.3" height="361.7" fill="#000"/>
<rect x="1434.4" y="1068.35" width="332.9" height="3.3" fill="#000"/>
<rect x="1420.6" y="1068.25" width="15.5" height="3.5" fill="#000"/>
<text x="1379.35" y="1079.84" textLength="37.97" lengthAdjust="spacingAndGlyphs" style="font-family:'Liberation Sans', Arial, sans-serif;font-weight:bold;font-size:28.6px" fill="#000">0.0</text>
<rect x="1420.6" y="948.82" width="15.5" height="3.5" fill="#000"/>
<text x="1378.99" y="960.41" textLength="37.97" lengthAdjust="spacingAndGlyphs" style="font-family:'Liberation Sans', Arial, sans-serif;font-weight:bold;font-size:28.6px" fill="#000">0.5</text>
<rect x="1420.6" y="829.38" width="15.5" height="3.5" fill="#000"/>
<text x="1379.35" y="840.97" textLength="37.97" lengthAdjust="spacingAndGlyphs" style="font-family:'Liberation Sans', Arial, sans-serif;font-weight:bold;font-size:28.6px" fill="#000">1.0</text>
<rect x="1420.6" y="709.95" width="15.5" height="3.5" fill="#000"/>
<text x="1378.99" y="721.54" textLength="37.97" lengthAdjust="spacingAndGlyphs" style="font-family:'Liberation Sans', Arial, sans-serif;font-weight:bold;font-size:28.6px" fill="#000">1.5</text>
<rect x="1470.15" y="806.9" width="1.7" height="26.1" fill="#000"/>
<rect x="1462.1" y="805.9" width="17.8" height="2" fill="#000"/>
<rect x="1453.5" y="832" width="35" height="238" fill="#000"/>
<rect x="1469.3" y="1070" width="3.4" height="15" fill="#000"/>
<rect x="1522.15" y="867.7" width="1.7" height="27.7" fill="#000"/>
<rect x="1514.1" y="866.7" width="17.8" height="2" fill="#000"/>
<rect x="1505.5" y="894.4" width="35" height="175.6" fill="#000"/>
<rect x="1510.5" y="899.3" width="25" height="170.7" fill="url(#chk)"/>
<rect x="1521.3" y="1070" width="3.4" height="15" fill="#000"/>
<rect x="1574.15" y="765" width="1.7" height="29.7" fill="#000"/>
<rect x="1566.1" y="764" width="17.8" height="2" fill="#000"/>
<rect x="1557.5" y="793.7" width="35" height="276.3" fill="#000"/>
<rect x="1562.5" y="798.6" width="25" height="271.4" fill="#a0a0a0"/>
<rect x="1573.3" y="1070" width="3.4" height="15" fill="#000"/>
<text x="1566.81" y="754.5" textLength="17.16" lengthAdjust="spacingAndGlyphs" style="font-family:'Liberation Sans', Arial, sans-serif;font-weight:bold;font-size:30.24px" fill="#000" stroke="#000" stroke-width="1.0" stroke-linejoin="round">#</text>
<rect x="1626.15" y="827.4" width="1.7" height="24.9" fill="#000"/>
<rect x="1618.1" y="826.4" width="17.8" height="2" fill="#000"/>
<rect x="1609.5" y="851.3" width="35" height="218.7" fill="#000"/>
<rect x="1614.5" y="856.2" width="25" height="213.8" fill="#808080"/>
<rect x="1625.3" y="1070" width="3.4" height="15" fill="#000"/>
<rect x="1678.15" y="886.2" width="1.7" height="20.3" fill="#000"/>
<rect x="1670.1" y="885.2" width="17.8" height="2" fill="#000"/>
<rect x="1661.5" y="905.5" width="35" height="164.5" fill="#000"/>
<rect x="1666.5" y="910.4" width="25" height="159.6" fill="#dddddd"/>
<rect x="1677.3" y="1070" width="3.4" height="15" fill="#000"/>
<rect x="1730.15" y="738.2" width="1.7" height="9.3" fill="#000"/>
<rect x="1722.1" y="737.2" width="17.8" height="2" fill="#000"/>
<rect x="1713.5" y="746.5" width="35" height="323.5" fill="#000"/>
<rect x="1718.5" y="751.4" width="25" height="318.6" fill="#343434"/>
<rect x="1729.3" y="1070" width="3.4" height="15" fill="#000"/>
<text x="1722.77" y="727.8" textLength="17.24" lengthAdjust="spacingAndGlyphs" style="font-family:'Liberation Sans', Arial, sans-serif;font-weight:bold;font-size:30.39px" fill="#000" stroke="#000" stroke-width="1.0" stroke-linejoin="round">#</text>
<path d="M1471.5 797.5 V780.1 H1524.2 V797.5" fill="none" stroke="#000" stroke-width="3" stroke-linejoin="miter"/>
<text x="1489.73" y="774.16" textLength="15.94" lengthAdjust="spacingAndGlyphs" style="font-family:'DejaVu Sans', sans-serif;font-weight:normal;font-size:34.64px" fill="#000" stroke="#000" stroke-width="0.9" stroke-linejoin="round">*</text>
<text transform="translate(1323.7,1094.99) rotate(-90)" x="0" y="0" textLength="408.89" lengthAdjust="spacingAndGlyphs" style="font-family:'Liberation Serif', 'Times New Roman', serif;font-weight:bold;font-size:35px" fill="#000">CASP14 mRNA abundance</text>
<text transform="translate(1362.9,1071.72) rotate(-90)" x="0" y="0" textLength="361.14" lengthAdjust="spacingAndGlyphs" style="font-family:'Liberation Serif', 'Times New Roman', serif;font-weight:bold;font-size:35px" fill="#000">(normalized to GAPDH)</text>
<text x="1293.62" y="636.93" textLength="31.1" lengthAdjust="spacingAndGlyphs" style="font-family:'Liberation Sans', Arial, sans-serif;font-weight:bold;font-size:57.86px" fill="#000">e</text>
<text x="1332.23" y="1114.6" textLength="108.47" lengthAdjust="spacingAndGlyphs" style="font-family:'Liberation Serif', 'Times New Roman', serif;font-weight:bold;font-size:26.8px" fill="#000">EEA (%)</text>
<text x="1465.51" y="1117" textLength="9.37" lengthAdjust="spacingAndGlyphs" style="font-family:'Liberation Serif', 'Times New Roman', serif;font-weight:bold;font-size:26.8px" fill="#000">-</text>
<text x="1517.51" y="1117" textLength="9.37" lengthAdjust="spacingAndGlyphs" style="font-family:'Liberation Serif', 'Times New Roman', serif;font-weight:bold;font-size:26.8px" fill="#000">-</text>
<text x="1557.77" y="1117" textLength="34.84" lengthAdjust="spacingAndGlyphs" style="font-family:'Liberation Serif', 'Times New Roman', serif;font-weight:bold;font-size:26.8px" fill="#000">0.1</text>
<text x="1609.65" y="1117" textLength="34.84" lengthAdjust="spacingAndGlyphs" style="font-family:'Liberation Serif', 'Times New Roman', serif;font-weight:bold;font-size:26.8px" fill="#000">0.2</text>
<text x="1673.51" y="1117" textLength="9.37" lengthAdjust="spacingAndGlyphs" style="font-family:'Liberation Serif', 'Times New Roman', serif;font-weight:bold;font-size:26.8px" fill="#000">-</text>
<text x="1725.51" y="1117" textLength="9.37" lengthAdjust="spacingAndGlyphs" style="font-family:'Liberation Serif', 'Times New Roman', serif;font-weight:bold;font-size:26.8px" fill="#000">-</text>
<text x="1303.44" y="1158.6" textLength="137.24" lengthAdjust="spacingAndGlyphs" style="font-family:'Liberation Serif', 'Times New Roman', serif;font-weight:bold;font-size:26.8px" fill="#000">PA (µg/mL)</text>
<text x="1465.51" y="1158.6" textLength="9.37" lengthAdjust="spacingAndGlyphs" style="font-family:'Liberation Serif', 'Times New Roman', serif;font-weight:bold;font-size:26.8px" fill="#000">-</text>
<text x="1517.51" y="1158.6" textLength="9.37" lengthAdjust="spacingAndGlyphs" style="font-family:'Liberation Serif', 'Times New Roman', serif;font-weight:bold;font-size:26.8px" fill="#000">-</text>
<text x="1569.51" y="1158.6" textLength="9.37" lengthAdjust="spacingAndGlyphs" style="font-family:'Liberation Serif', 'Times New Roman', serif;font-weight:bold;font-size:26.8px" fill="#000">-</text>
<text x="1621.51" y="1158.6" textLength="9.37" lengthAdjust="spacingAndGlyphs" style="font-family:'Liberation Serif', 'Times New Roman', serif;font-weight:bold;font-size:26.8px" fill="#000">-</text>
<text x="1661.73" y="1158.6" textLength="34.84" lengthAdjust="spacingAndGlyphs" style="font-family:'Liberation Serif', 'Times New Roman', serif;font-weight:bold;font-size:26.8px" fill="#000">4.7</text>
<text x="1713.46" y="1158.6" textLength="34.84" lengthAdjust="spacingAndGlyphs" style="font-family:'Liberation Serif', 'Times New Roman', serif;font-weight:bold;font-size:26.8px" fill="#000">9.4</text>
<rect x="1506.9" y="1173.25" width="247.8" height="3.5" fill="#000"/>
<text x="1557.01" y="1215.6" textLength="143.85" lengthAdjust="spacingAndGlyphs" style="font-family:'Liberation Serif', 'Times New Roman', serif;font-weight:bold;font-size:23.3px" fill="#000">50 µg/ml SDS</text>
</svg>
</body></html>
